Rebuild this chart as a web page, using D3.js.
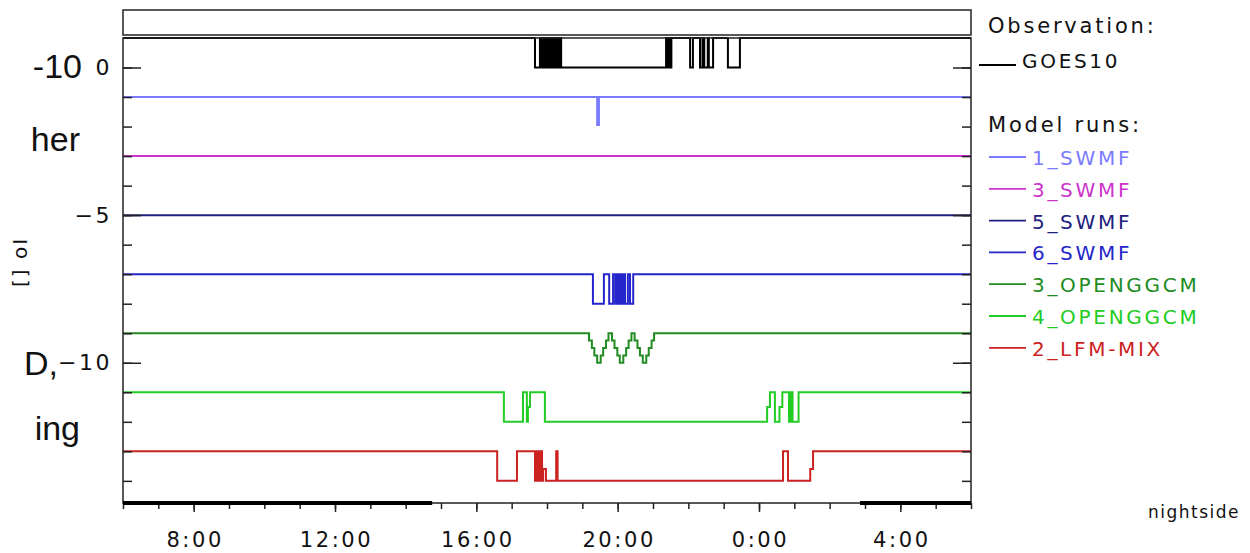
<!DOCTYPE html>
<html>
<head>
<meta charset="utf-8">
<script src="https://cdn.jsdelivr.net/npm/d3@7"></script>
<style>
  body { margin: 0; background: #fff; }
  svg { display: block; }
  .tick text { font-family: "DejaVu Sans", sans-serif; }
</style>
</head>
<body>
<div id="chart"></div>
<script>
// step series: [clock hour (6..30), value] -- value holds until the next point
var goes10 = [[6,1],[17.66,0],[17.80,1],[17.83,0],[17.85,1],[17.88,0],[17.90,1],[17.94,0],[17.96,1],[17.99,0],
  [18.01,1],[18.05,0],[18.07,1],[18.10,0],[18.12,1],[18.16,0],[18.18,1],[18.22,0],[18.24,1],[18.29,0],
  [18.31,1],[18.36,0],[18.38,1],[18.40,0],[21.37,1],[21.40,0],[21.42,1],[21.45,0],[21.47,1],[21.50,0],
  [21.52,1],[22.05,0],[22.13,1],[22.33,0],[22.40,1],[22.45,0],[22.55,1],[22.58,0],[22.70,1],[23.12,0],
  [23.46,1],[30,1]];
var swmf1 = [[6,-1],[19.42,-1.95],[19.47,-1],[30,-1]];
var swmf3 = [[6,-3],[30,-3]];
var swmf5 = [[6,-5],[30,-5]];
var swmf6 = [[6,-7],[19.30,-8],[19.61,-7],[19.76,-8],[19.87,-7],[19.93,-8],[19.98,-7],[20.03,-8],[20.08,-7],
  [20.12,-8],[20.17,-7],[20.21,-8],[20.29,-7],[20.35,-8],[20.44,-7],[30,-7]];
var openggcm3 = [[6,-9],
  [19.19,-9.25],[19.27,-9.5],[19.34,-9.75],[19.42,-10],[19.52,-9.75],[19.59,-9.5],[19.67,-9.25],[19.74,-9],
  [19.84,-9.25],[19.91,-9.5],[19.99,-9.75],[20.06,-10],[20.16,-9.75],[20.24,-9.5],[20.31,-9.25],[20.39,-9],
  [20.48,-9.25],[20.56,-9.5],[20.63,-9.75],[20.71,-10],[20.81,-9.75],[20.88,-9.5],[20.96,-9.25],[21.03,-9],
  [30,-9]];
var openggcm4 = [[6,-11],[16.78,-12],[17.32,-11],[17.43,-12],[17.46,-11.5],[17.52,-11],[17.94,-12],
  [24.23,-11.5],[24.31,-11],[24.45,-12],[24.58,-11.5],[24.66,-11],[24.85,-12],[24.90,-11],[24.95,-12],
  [25.12,-11],[30,-11]];
var lfmmix2 = [[6,-13],[16.59,-14],[17.15,-13],[17.66,-14],[17.70,-13],[17.73,-14],[17.77,-13],[17.80,-14],
  [17.83,-13],[17.86,-14],[17.89,-13.6],[17.97,-14],[18.26,-13],[18.30,-14],[24.68,-13],[24.82,-14],
  [25.45,-13.6],[25.53,-13],[30,-13]];

var modelNames = ["1_SWMF","3_SWMF","5_SWMF","6_SWMF","3_OPENGGCM","4_OPENGGCM","2_LFM-MIX"];
var modelColors = ["#7b7bff","#cc33cc","#202080","#2525cc","#228b22","#22cc22","#cc2222"];
var modelSeries = [swmf1, swmf3, swmf5, swmf6, openggcm3, openggcm4, lfmmix2];

// nightside intervals along the time axis
var nightside = [[6,14.75],[26.86,30]];

var hourTicks = d3.range(6, 31);
var majorTicks = [8,12,16,20,24,28];
var majorLabels = ["8:00","12:00","16:00","20:00","0:00","4:00"];
var yMinor = d3.range(0, -15, -1);
var yMajor = [0,-5,-10];

// fragments of slide text sitting behind the plot
var slideText = [["-10",82,78],["her",80,151],["D,",58,375],["ing",80,440]];

var W = 1250, H = 553;
var plot = {left: 123, right: 971, top: 38, bottom: 503};

var svg = d3.select("#chart").append("svg")
    .attr("width", W).attr("height", H);

svg.selectAll(".slide")
    .data(slideText)
  .enter().append("text")
    .attr("x", d => d[1]).attr("y", d => d[2])
    .attr("text-anchor", "end")
    .attr("font-family", "Liberation Sans, Arial, sans-serif")
    .attr("font-size", 34)
    .attr("fill", "#111")
    .text(d => d[0]);

var x = d3.scaleLinear().domain([6, 30]).range([plot.left, plot.right]);
var y = d3.scaleLinear().domain([-14.75, 1]).range([plot.bottom, plot.top]);

// empty strip above the plot
svg.append("rect")
    .attr("x", plot.left).attr("y", 10)
    .attr("width", plot.right - plot.left).attr("height", 25)
    .attr("fill", "none").attr("stroke", "#222").attr("stroke-width", 1.5);

// data lines
var line = d3.line()
    .x(d => x(d[0])).y(d => y(d[1]))
    .curve(d3.curveStepAfter);

var g = svg.append("g");
modelSeries.forEach((s, i) => {
  g.append("path").datum(s)
    .attr("d", line)
    .attr("fill", "none")
    .attr("stroke", modelColors[i])
    .attr("stroke-width", 2);
});
g.append("path").datum(goes10)
    .attr("d", line)
    .attr("fill", "none")
    .attr("stroke", "#000")
    .attr("stroke-width", 2);

// frame
svg.append("rect")
    .attr("x", plot.left).attr("y", plot.top)
    .attr("width", plot.right - plot.left).attr("height", plot.bottom - plot.top)
    .attr("fill", "none").attr("stroke", "#222").attr("stroke-width", 1.5);

function styleAxis(sel) {
  sel.select(".domain").remove();
  sel.selectAll("line").attr("stroke", "#222").attr("stroke-width", 1.5);
}

// y axes, ticks pointing inward on both sides
svg.append("g").attr("transform", "translate(" + plot.left + ",0)")
    .call(d3.axisLeft(y).tickValues(yMinor).tickSize(-9).tickFormat(""))
    .call(styleAxis);
svg.append("g").attr("transform", "translate(" + plot.left + ",0)")
    .call(d3.axisLeft(y).tickValues(yMajor).tickSize(-18).tickPadding(11))
    .call(styleAxis)
    .selectAll("text")
      .attr("font-size", 22).attr("letter-spacing", 2.5).attr("fill", "#111");
svg.append("g").attr("transform", "translate(" + plot.right + ",0)")
    .call(d3.axisRight(y).tickValues(yMinor).tickSize(-9).tickFormat(""))
    .call(styleAxis);
svg.append("g").attr("transform", "translate(" + plot.right + ",0)")
    .call(d3.axisRight(y).tickValues(yMajor).tickSize(-18).tickFormat(""))
    .call(styleAxis);

// x axis, ticks pointing outward
svg.append("g").attr("transform", "translate(0," + plot.bottom + ")")
    .call(d3.axisBottom(x).tickValues(hourTicks).tickSize(6).tickFormat(""))
    .call(styleAxis);
svg.append("g").attr("transform", "translate(0," + plot.bottom + ")")
    .call(d3.axisBottom(x).tickValues(majorTicks).tickSize(9).tickPadding(20)
            .tickFormat((d, i) => majorLabels[i]))
    .call(styleAxis)
    .selectAll("text")
      .attr("font-size", 21).attr("letter-spacing", 2.6).attr("fill", "#111")
      .attr("dx", 1);

// nightside bar on the time axis
svg.selectAll(".night")
    .data(nightside)
  .enter().append("line")
    .attr("x1", d => x(d[0])).attr("x2", d => x(d[1]))
    .attr("y1", plot.bottom).attr("y2", plot.bottom)
    .attr("stroke", "#000").attr("stroke-width", 4);

svg.append("text")
    .attr("x", 1148).attr("y", 518)
    .attr("font-family", "DejaVu Sans, sans-serif").attr("font-size", 17)
    .attr("letter-spacing", 1.5).attr("fill", "#111")
    .text("nightside");

// y title
svg.append("text")
    .attr("transform", "translate(27,262) rotate(-90)")
    .attr("text-anchor", "middle")
    .attr("font-family", "DejaVu Sans, sans-serif").attr("font-size", 20)
    .attr("letter-spacing", 2).attr("fill", "#111")
    .text("[] oI");

// legend
var leg = svg.append("g")
    .attr("font-family", "DejaVu Sans, sans-serif");

leg.append("text").attr("x", 988).attr("y", 33)
    .attr("font-size", 21).attr("letter-spacing", 2.8).attr("fill", "#111")
    .text("Observation:");
leg.append("line")
    .attr("x1", 979).attr("x2", 1016).attr("y1", 65).attr("y2", 65)
    .attr("stroke", "#000").attr("stroke-width", 1.8);
leg.append("text").attr("x", 1022).attr("y", 68)
    .attr("font-size", 20).attr("letter-spacing", 2.7).attr("fill", "#111")
    .text("GOES10");
leg.append("text").attr("x", 988).attr("y", 132)
    .attr("font-size", 21).attr("letter-spacing", 2.8).attr("fill", "#111")
    .text("Model runs:");

var entry = leg.selectAll(".entry")
    .data(modelNames)
  .enter().append("g")
    .attr("transform", (d, i) => "translate(0," + (157 + i * 31.8) + ")");
entry.append("line")
    .attr("x1", 989).attr("x2", 1026).attr("y1", 0).attr("y2", 0)
    .attr("stroke", (d, i) => modelColors[i]).attr("stroke-width", 1.8);
entry.append("text")
    .attr("x", 1032).attr("y", 8)
    .attr("font-size", 20).attr("letter-spacing", 2.7)
    .attr("fill", (d, i) => modelColors[i])
    .text(d => d);
</script>
</body>
</html>
